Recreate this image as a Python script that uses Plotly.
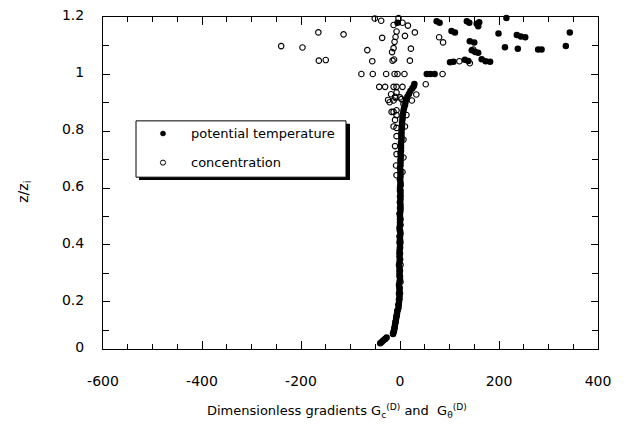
import plotly.graph_objects as go

# ---------------- data ----------------
# potential temperature gradient, main profile
theta_z = [0.055, 0.060, 0.065, 0.070, 0.075, 0.088, 0.095, 0.10, 0.11, 0.12, 0.13, 0.14, 0.15,
           0.16, 0.17, 0.18, 0.19, 0.20, 0.21, 0.22, 0.23, 0.24, 0.25, 0.26, 0.27, 0.28, 0.29,
           0.30, 0.31, 0.32, 0.33, 0.34, 0.35, 0.36, 0.37, 0.38, 0.39, 0.40, 0.41, 0.42, 0.43,
           0.44, 0.45, 0.46, 0.47, 0.48, 0.49, 0.50, 0.51, 0.52, 0.53, 0.54, 0.55, 0.56, 0.57,
           0.58, 0.59, 0.60, 0.61, 0.62, 0.63, 0.64, 0.65, 0.66, 0.67, 0.68, 0.69, 0.70, 0.71,
           0.72, 0.73, 0.74, 0.75, 0.76, 0.77, 0.78, 0.79, 0.80, 0.81, 0.82, 0.83, 0.84, 0.85,
           0.86, 0.87, 0.88, 0.89, 0.90, 0.91, 0.92, 0.93, 0.94, 0.95, 0.958, 0.965]
theta_x = [-40, -37, -34, -30, -27, -14, -13, -12, -11, -10, -9, -8, -7,
           -6, -5, -3, -3, -2, -2, -1, -2, -1, -1, -2, -1, 0, -1,
           -1, 0, -1, -2, -1, 0, -1, 0, -1, 0, 0, -1, 0, 0,
           1, 0, -1, 0, 0, 1, 0, 0, 1, 0, 1, 0, 1, 0,
           1, 1, 0, 1, 1, 0, 1, 1, 1, 0, 1, 1, 1, 2,
           1, 2, 2, 2, 2, 3, 3, 3, 3, 4, 4, 4, 5, 5,
           6, 7, 8, 10, 11, 12, 15, 18, 21, 25, 28, 29]
# potential temperature gradient, scattered points above the inversion
theta_up_x = [-5, 74, 80, 135, 140, 155, 160, 158, 215, 104, 111, 199, 236, 244, 253, 343,
              141, 150, 212, 238, 279, 286, 335, 145, 152, 158, 101, 108, 131, 138, 165,
              173, 182, 54, 61, 70]
theta_up_z = [1.18, 1.185, 1.18, 1.185, 1.18, 1.176, 1.182, 1.168, 1.197, 1.151, 1.146, 1.142,
              1.137, 1.132, 1.129, 1.146, 1.115, 1.111, 1.094, 1.089, 1.086, 1.086, 1.098,
              1.083, 1.077, 1.075, 1.041, 1.043, 1.050, 1.046, 1.052, 1.045, 1.043, 1.0, 1.0, 1.0]

# concentration gradient
conc_x = [-30, -14, -11, -9, -7, -5, -3, -1, 0, -1, 1, 0, -1, 1, 0, -1, 0, 1, -1, 0, 1, 0,
          -1, 1, 0, 1, 0, 1, 0,
          -7, 5, -8, 7, -7, -10, 7, -7, -13, -7, 10, -10, -7, 13, -13, -7, -17, 7, -21, -13,
          -24, 0, -10, 3, 24, 33, -18, -7, -9,
          -42, -30, -13, -7, 5, 52,
          -78, -55, -28, -11, -5, 9, 86,
          -164, -150, -56, -15, -12, 20, 120, 141,
          -240, -197, -66, -13, -16, 22, 148,
          -165, -114, -36, -7, -9, -11, 10, 30, 79, 87,
          -51, -38, -3, -13, 5, 16]
conc_z = [0.07, 0.09, 0.11, 0.13, 0.15, 0.17, 0.19, 0.21, 0.23, 0.25, 0.27, 0.29, 0.31, 0.33,
          0.35, 0.37, 0.39, 0.41, 0.43, 0.45, 0.47, 0.49, 0.51, 0.53, 0.55, 0.57, 0.59, 0.61, 0.63,
          0.645, 0.656, 0.679, 0.707, 0.719, 0.747, 0.770, 0.782, 0.816, 0.811, 0.816, 0.839,
          0.856, 0.856, 0.867, 0.873, 0.867, 0.895, 0.901, 0.907, 0.909, 0.918, 0.920, 0.912,
          0.907, 0.928, 0.929, 0.935, 0.916,
          0.955, 0.955, 0.955, 0.955, 0.955, 0.964,
          1.0, 1.0, 1.0, 1.0, 1.0, 1.0, 1.0,
          1.047, 1.049, 1.045, 1.047, 1.051, 1.047, 1.045, 1.038,
          1.098, 1.093, 1.084, 1.091, 1.077, 1.089, 1.086,
          1.146, 1.139, 1.127, 1.149, 1.13, 1.113, 1.134, 1.146, 1.129, 1.111,
          1.195, 1.187, 1.196, 1.172, 1.18, 1.17]

x_ticks = [-600, -400, -200, 0, 200, 400]
x_ticktext = ["-600", "-400", "-200", "0", "200", "400"]
y_ticks = [0.2, 0.4, 0.6, 0.8, 1.0, 1.2]
y_ticktext = ["0.2", "0.4", "0.6", "0.8", "1", "1.2"]
legend_labels = ["potential temperature", "concentration"]

# ---------------- figure ----------------
FONT = "DejaVu Sans"
W, H = 626, 434
L, R, T, B = 103, 28, 7, 85
PW, PH = W - L - R, H - T - B
Y0 = 0.035  # bottom of the drawn y-axis


def px(xp):
    return (xp - L) / PW


def py(yp):
    return (H - B - yp) / PH


fig = go.Figure()
fig.add_trace(go.Scatter(
    x=conc_x, y=conc_z, mode="markers", name=legend_labels[1], showlegend=False, cliponaxis=False,
    marker=dict(symbol="circle-open", size=5.5, color="black", line=dict(width=1.1, color="black"))))
fig.add_trace(go.Scatter(
    x=theta_x + theta_up_x, y=theta_z + theta_up_z, mode="markers", name=legend_labels[0],
    showlegend=False, cliponaxis=False, marker=dict(symbol="circle", size=6.5, color="black")))

axis_common = dict(showline=True, linecolor="black", linewidth=1, mirror="allticks",
                   ticks="inside", tickcolor="black", showgrid=False, zeroline=False,
                   ticklabeloverflow="allow",
                   tickfont=dict(family=FONT, size=14, color="black"))
fig.update_xaxes(range=[-600, 400], tickvals=x_ticks, ticktext=x_ticktext, ticklen=8, tickwidth=1,
                 ticklabelstandoff=19,
                 minor=dict(dtick=50, ticks="inside", ticklen=5, tickcolor="black", showgrid=False),
                 **axis_common)
fig.update_yaxes(range=[Y0, 1.2001], tickvals=[Y0] + y_ticks, ticktext=["0"] + y_ticktext,
                 ticklen=7, tickwidth=1, ticklabelstandoff=15, ticklabelshift=-2,
                 minor=dict(tickvals=[0.1, 0.3, 0.5, 0.7, 0.9, 1.1], ticks="inside", ticklen=6,
                            tickcolor="black", showgrid=False),
                 **axis_common)

shapes = []
# legend shadow + box
shapes.append(dict(type="rect", xref="paper", yref="paper", x0=px(139), x1=px(350),
                   y0=py(175), y1=py(117), fillcolor="black", line=dict(width=0), layer="above"))
shapes.append(dict(type="rect", xref="paper", yref="paper", x0=px(136), x1=px(346),
                   y0=py(172), y1=py(114), fillcolor="white", line=dict(width=1, color="black"),
                   layer="above"))
r = 2.6
shapes.append(dict(type="circle", xref="paper", yref="paper", x0=px(163 - r), x1=px(163 + r),
                   y0=py(127 + r), y1=py(127 - r), fillcolor="black",
                   line=dict(width=0.5, color="black"), layer="above"))
shapes.append(dict(type="circle", xref="paper", yref="paper", x0=px(163 - r), x1=px(163 + r),
                   y0=py(157 + r), y1=py(157 - r), fillcolor="white",
                   line=dict(width=1, color="black"), layer="above"))

annotations = [
    dict(text=legend_labels[0], x=px(189), y=py(127), xref="paper", yref="paper",
         xanchor="left", yanchor="middle", showarrow=False,
         font=dict(family=FONT, size=13, color="black")),
    dict(text=legend_labels[1], x=px(189), y=py(157), xref="paper", yref="paper",
         xanchor="left", yanchor="middle", showarrow=False,
         font=dict(family=FONT, size=13, color="black")),
    dict(text="z/z<sub>i</sub>", x=px(24), y=py(187), xref="paper", yref="paper",
         textangle=-90, xanchor="center", yanchor="middle", showarrow=False,
         font=dict(family=FONT, size=14, color="black")),
    dict(text="Dimensionless gradients G<sub>c</sub><sup>(D)</sup> and  G<sub>θ</sub><sup>(D)</sup>",
         x=px(337), y=py(413), xref="paper", yref="paper",
         xanchor="center", yanchor="middle", showarrow=False,
         font=dict(family=FONT, size=13, color="black")),
]

fig.update_layout(width=W, height=H, margin=dict(l=L, r=R, t=T, b=B, pad=0),
                  paper_bgcolor="white", plot_bgcolor="white", showlegend=False,
                  shapes=shapes, annotations=annotations,
                  font=dict(family=FONT, size=13, color="black"))

fig.write_html("out.html", config={"displayModeBar": False},
               post_script="document.body.style.margin='0';document.body.style.padding='0';")
